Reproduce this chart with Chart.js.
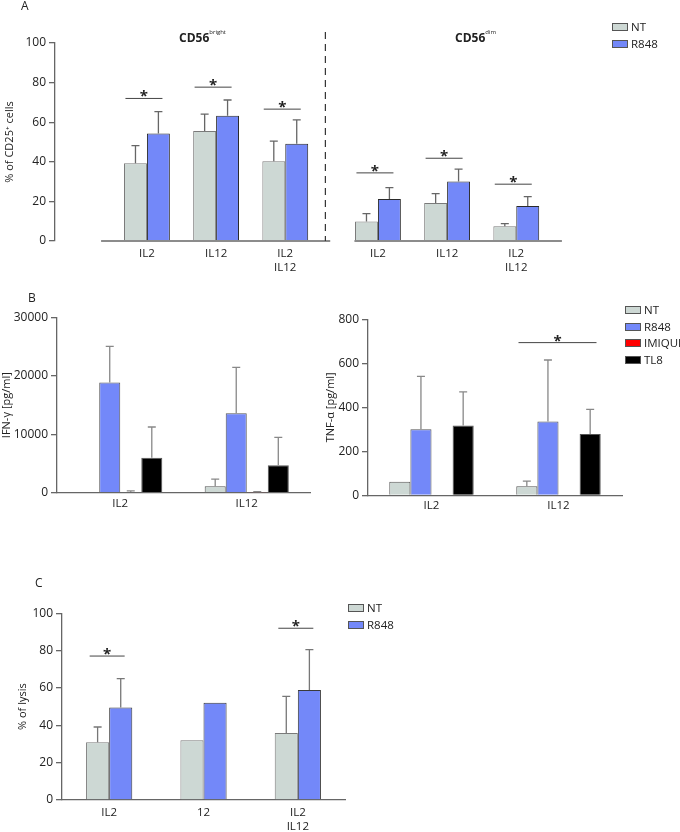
<!DOCTYPE html>
<html>
<head>
<meta charset="utf-8">
<script src="https://cdn.jsdelivr.net/npm/chart.js@4.4.1/dist/chart.umd.min.js"></script>
<style>
  body { margin: 0; background: #fff; font-family: 'Open Sans', sans-serif; color: #222; }
  #fig { position: relative; width: 680px; height: 832px; overflow: hidden; }
  #fig canvas, .txt, .leg { position: absolute; }
  .panel { font-size: 12px; }
  .ttl { font-size: 12px; font-weight: bold; white-space: nowrap; }
  .ttl sup { font-size: 6px; font-weight: normal; vertical-align: 8px; }
  .leg { font-size: 11.5px; line-height: 16.5px; }
  .leg div { display: flex; align-items: center; white-space: nowrap; }
  .leg i { display: inline-block; width: 14px; height: 6px; border: 1px solid #555; margin-right: 3px; }
</style>
</head>
<body>
<div id="fig">
  <canvas id="cA" width="680" height="272" style="left:0;top:0"></canvas>
  <canvas id="cB1" width="320" height="240" style="left:0;top:280px"></canvas>
  <canvas id="cB2" width="360" height="240" style="left:320px;top:280px"></canvas>
  <canvas id="cC" width="400" height="272" style="left:0;top:560px"></canvas>

  <div class="txt panel" style="left:21px;top:-3px">A</div>
  <div class="txt panel" style="left:28px;top:289px">B</div>
  <div class="txt panel" style="left:35px;top:574px">C</div>
  <div class="txt ttl" style="left:179px;top:28px">CD56<sup>bright</sup></div>
  <div class="txt ttl" style="left:455px;top:28px">CD56<sup>dim</sup></div>
  <div class="leg" id="legA" style="left:612px;top:19px"></div>
  <div class="leg" id="legB" style="left:625px;top:302px"></div>
  <div class="leg" id="legC" style="left:348px;top:600px"></div>
</div>
<script>
// ---- panel A: % of CD25+ cells ----
const catsA = ['IL2', 'IL12', ['IL2', 'IL12']];
const brightNT = [39.3, 55.5, 40.3];
const brightNTErr = [8.9, 8.6, 10.1];
const brightR848 = [54.3, 63.2, 49.1];
const brightR848Err = [11.0, 8.0, 12.1];
const dimNT = [9.8, 19.2, 7.4];
const dimNTErr = [4.0, 4.7, 1.4];
const dimR848 = [21.2, 30.0, 17.7];
const dimR848Err = [5.8, 6.3, 4.7];
const sigBright = [72.0, 77.7, 66.6];
const sigDim = [34.4, 41.8, 28.7];
const ticksA = [0, 20, 40, 60, 80, 100];

// ---- panel B: cytokines ----
const catsB = ['IL2', 'IL12'];
const seriesB = ['NT', 'R848', 'IMIQUI', 'TL8'];
const ifnNT = [0, 1090];
const ifnNTErr = [0, 1250];
const ifnR848 = [18900, 13600];
const ifnR848Err = [6200, 7900];
const ifnIMIQUI = [100, 60];
const ifnIMIQUIErr = [200, 110];
const ifnTL8 = [6000, 4690];
const ifnTL8Err = [5260, 4800];
const tnfNT = [62, 41];
const tnfNTErr = [0, 23];
const tnfR848 = [300, 336];
const tnfR848Err = [241, 279];
const tnfIMIQUI = [0, 0];
const tnfIMIQUIErr = [0, 0];
const tnfTL8 = [317, 279];
const tnfTL8Err = [153, 112];
const sigTNF = [null, 694];
const ticksIFN = [0, 10000, 20000, 30000];
const ticksTNF = [0, 200, 400, 600, 800];

// ---- panel C: % of lysis ----
const catsC = ['IL2', '12', ['IL2', 'IL12']];
const lysisNT = [30.9, 32.0, 35.9];
const lysisNTErr = [8.2, 0, 19.6];
const lysisR848 = [49.6, 52.1, 58.9];
const lysisR848Err = [15.4, 0, 21.6];
const sigLysis = [77.1, null, 92.0];
const ticksC = [0, 20, 40, 60, 80, 100];

const COL = { NT: '#cdd8d4', R848: '#7388f9', IMIQUI: '#ff0000', TL8: '#000000' };
const AXIS = '#666';

Chart.defaults.font.family = "'Open Sans', sans-serif";
Chart.defaults.font.size = 11;
Chart.defaults.color = '#222';

// where the two CD56 groups sit on panel A's shared x axis (group units)
const posBright = [0, 1, 2];
const posDim = [3.34, 4.34, 5.34];

const extras = {
    id: 'extras',
    afterDatasetsDraw(chart, args, o) {
        const { ctx } = chart;
        const x = chart.scales.x, y = chart.scales.y;
        ctx.save();
        // upper error bars
        chart.data.datasets.forEach((ds, di) => {
            if (!ds.err) return;
            chart.getDatasetMeta(di).data.forEach((bar, i) => {
                const e = ds.err[i];
                if (!e) return;
                const raw = ds.data[i];
                const v = typeof raw === 'object' ? raw.y : raw;
                const top = y.getPixelForValue(v + e);
                ctx.strokeStyle = o.errColor || '#777';
                ctx.lineWidth = 1.3;
                ctx.beginPath();
                ctx.moveTo(bar.x, bar.y); ctx.lineTo(bar.x, top);
                ctx.moveTo(bar.x - 4, top); ctx.lineTo(bar.x + 4, top);
                ctx.stroke();
            });
        });
        // significance bars
        (o.sig || []).forEach((s) => {
            s.y.forEach((v, i) => {
                if (v == null) return;
                const cx = x.getPixelForValue(s.pos ? s.pos[i] : i) + (o.sigShift || 0);
                const py = y.getPixelForValue(v);
                ctx.strokeStyle = '#444'; ctx.lineWidth = 1;
                ctx.beginPath(); ctx.moveTo(cx - o.sigHalf, py); ctx.lineTo(cx + o.sigHalf, py); ctx.stroke();
                ctx.fillStyle = '#222';
                ctx.font = "bold 15px 'Open Sans', sans-serif";
                ctx.textAlign = 'center'; ctx.textBaseline = 'alphabetic';
                ctx.fillText('*', cx, py + 3);
            });
        });
        // split baseline (panel A)
        if (o.baseline) {
            const py = y.getPixelForValue(0);
            ctx.strokeStyle = AXIS; ctx.lineWidth = 1.3;
            o.baseline.forEach(([a, b]) => {
                ctx.beginPath(); ctx.moveTo(x.getPixelForValue(a), py); ctx.lineTo(x.getPixelForValue(b), py); ctx.stroke();
            });
        }
        // dashed divider (panel A)
        if (o.divider) {
            const px = x.getPixelForValue(o.divider.at);
            ctx.strokeStyle = '#333'; ctx.lineWidth = 1.2; ctx.setLineDash([7, 5]);
            ctx.beginPath(); ctx.moveTo(px, y.getPixelForValue(o.divider.top)); ctx.lineTo(px, y.getPixelForValue(0)); ctx.stroke();
        }
        ctx.restore();
    },
};

function yAxis(max, ticks, title, width, titlePad) {
    return {
        min: 0, max,
        afterBuildTicks: (s) => { s.ticks = ticks.map((v) => ({ value: v })); },
        afterFit: (s) => { s.width = width; },
        ticks: { padding: 3, font: { size: 12 }, callback: (v) => String(v) },
        grid: { drawOnChartArea: false, tickLength: 6, color: AXIS, lineWidth: 1.3 },
        border: { color: AXIS, width: 1.3 },
        title: { display: true, text: title, font: { size: 11 }, padding: { top: titlePad, bottom: 0 } },
    };
}

function catX(height, pad) {
    return {
        afterFit: (s) => { s.height = height; },
        grid: { display: false, drawTicks: false },
        border: { color: AXIS, width: 1.3 },
        ticks: { padding: pad, font: { size: 11.5 }, maxRotation: 0, autoSkip: false },
    };
}

function bars(label, data, err, extra) {
    return Object.assign({ label, data, err, backgroundColor: COL[label], borderColor: '#555', borderWidth: 1 }, extra || {});
}

const base = { responsive: false, animation: false, plugins: { legend: { display: false }, tooltip: { enabled: false } } };

// ---- panel A ----
new Chart(document.getElementById('cA'), {
    type: 'bar',
    data: {
        datasets: [
            bars('NT', posBright.map((p, i) => ({ x: p, y: brightNT[i] })).concat(posDim.map((p, i) => ({ x: p, y: dimNT[i] }))),
                brightNTErr.concat(dimNTErr), { borderColor: '#7a7a7a' }),
            bars('R848', posBright.map((p, i) => ({ x: p, y: brightR848[i] })).concat(posDim.map((p, i) => ({ x: p, y: dimR848[i] }))),
                brightR848Err.concat(dimR848Err), { borderColor: '#2a2a2a' }),
        ],
    },
    options: Object.assign({}, base, {
        layout: { padding: { left: 0, right: 72, top: 43, bottom: 0 } },
        categoryPercentage: 0.663, barPercentage: 1,
        scales: {
            x: {
                type: 'linear', min: -0.663, max: 6.0,
                afterBuildTicks: (s) => { s.ticks = posBright.concat(posDim).map((v) => ({ value: v })); },
                afterFit: (s) => { s.height = 272 - 241; },
                grid: { display: false, drawTicks: false }, border: { display: false },
                ticks: { padding: 6, font: { size: 11.5 }, maxRotation: 0, autoSkip: false, callback: (v, i) => catsA[i % 3] },
            },
            y: yAxis(100, ticksA, '% of CD25\u207A cells', 55, 3),
        },
        plugins: Object.assign({}, base.plugins, {
            extras: {
                errColor: '#666', sigHalf: 18.5, sigShift: -3,
                sig: [{ pos: posBright, y: sigBright }, { pos: posDim, y: sigDim }],
                baseline: [[-0.663, 2.65], [3.0, 6.0]],
                divider: { at: 2.58, top: 105.5 },
            },
        }),
    }),
    plugins: [extras],
});

// ---- panel B ----
function cytokineChart(id, vals, errs, max, ticks, title, yw, titlePad, padR, padTop, xh, sig) {
    return new Chart(document.getElementById(id), {
        type: 'bar',
        data: { labels: catsB, datasets: seriesB.map((s, k) => bars(s, vals[k], errs[k])) },
        options: Object.assign({}, base, {
            layout: { padding: { left: 0, right: padR, top: padTop, bottom: 0 } },
            categoryPercentage: 0.665, barPercentage: 1,
            scales: { x: catX(xh, 4), y: yAxis(max, ticks, title, yw, titlePad) },
            plugins: Object.assign({}, base.plugins, {
                extras: { errColor: '#888', sigHalf: 39, sigShift: -1, sig: sig ? [{ y: sig }] : [] },
            }),
        }),
        plugins: [extras],
    });
}
cytokineChart('cB1', [ifnNT, ifnR848, ifnIMIQUI, ifnTL8], [ifnNTErr, ifnR848Err, ifnIMIQUIErr, ifnTL8Err],
    30000, ticksIFN, 'IFN-\u03B3 [pg/ml]', 57, 0, 10, 37.7, 240 - 212.7, null);
cytokineChart('cB2', [tnfNT, tnfR848, tnfIMIQUI, tnfTL8], [tnfNTErr, tnfR848Err, tnfIMIQUIErr, tnfTL8Err],
    800, ticksTNF, 'TNF-\u03B1 [pg/ml]', 48, 4, 58, 39.3, 240 - 215.3, sigTNF);

// ---- panel C ----
new Chart(document.getElementById('cC'), {
    type: 'bar',
    data: {
        labels: catsC,
        datasets: [
            bars('NT', lysisNT, lysisNTErr, { borderColor: '#7a7a7a' }),
            bars('R848', lysisR848, lysisR848Err, { borderColor: '#3a3a3a' }),
        ],
    },
    options: Object.assign({}, base, {
        layout: { padding: { left: 0, right: 55, top: 53.3, bottom: 0 } },
        categoryPercentage: 0.49, barPercentage: 1,
        scales: { x: catX(32, 6), y: yAxis(100, ticksC, '% of lysis', 62, 16) },
        plugins: Object.assign({}, base.plugins, {
            extras: { errColor: '#777', sigHalf: 17.5, sigShift: -2, sig: [{ y: sigLysis }] },
        }),
    }),
    plugins: [extras],
});

// ---- legends ----
function legend(id, names) {
    document.getElementById(id).innerHTML = names
        .map((n) => `<div><i style="background:${COL[n]}"></i>${n}</div>`).join('');
}
legend('legA', ['NT', 'R848']);
legend('legB', seriesB);
legend('legC', ['NT', 'R848']);
</script>
</body>
</html>
